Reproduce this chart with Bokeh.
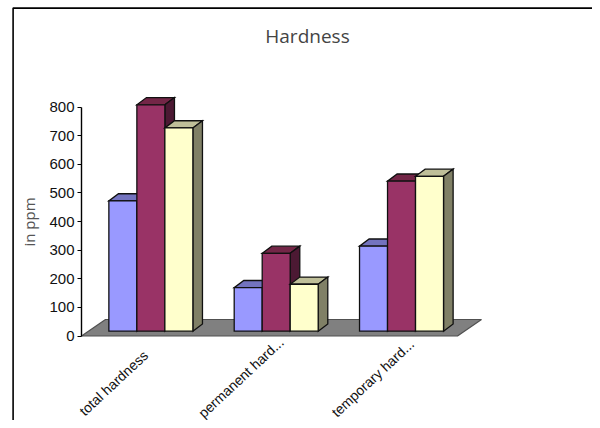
from bokeh.plotting import figure
from bokeh.models import Range1d, LinearAxis, FixedTicker, Label
from bokeh.core.properties import value
from bokeh.embed import file_html
from bokeh.resources import INLINE

# ---- data ----
categories = ["total hardness", "permanent hard...", "temporary hard..."]
series_a = [455, 152, 297]
series_b = [791, 272, 524]
series_c = [710, 164, 541]
y_ticks = [0, 100, 200, 300, 400, 500, 600, 700, 800]
title_text = "Hardness"
y_title = "in ppm"

# ---- styling / layout ----
W, H = 592, 420
X0_PX, Y0_PX = 81.0, 335.5          # where x=0 and y=0 land
PX_PER_CAT = 125.33
PX_PER_PPM = 229.0 / 800.0
BAR_PX, DEPTH_X_PX, DEPTH_Y_PX = 28.0, 9.6, 7.2
FRONT_X_PX, FRONT_Y_PX = 6.7, 4.8
FLOOR_X_PX, FLOOR_Y_PX = 24.0, 16.5
fronts = ["#9999FF", "#993366", "#FFFFCC"]
tops = ["#7373BF", "#732647", "#BFBF99"]
sides = ["#4C4C80", "#4C1933", "#808066"]
LABEL_DX = [-30.5, -28.5, -22.0]
LABEL_DY = [47.0, 41.5, 42.0]
LABEL_ANGLE = 0.75


def xd(px):
    return (px - X0_PX) / PX_PER_CAT


def yd(px):
    return (Y0_PX - px) / PX_PER_PPM


dxu = lambda px: px / PX_PER_CAT
dyu = lambda px: px / PX_PER_PPM

p = figure(width=W, height=H, output_backend="svg", toolbar_location=None,
           x_range=Range1d(xd(0), xd(W)), y_range=Range1d(yd(H), yd(0)),
           x_axis_location=None, y_axis_location=None,
           min_border=0)
p.grid.visible = False
p.outline_line_color = None
p.background_fill_color = "white"
p.border_fill_color = "white"

# outer border of the original picture
p.line([xd(12.6), xd(12.6), xd(W)], [yd(H), yd(7.6), yd(7.6)], line_color="black", line_width=1.6)

# floor
n = len(categories)
fx, fy = dxu(FLOOR_X_PX), dyu(FLOOR_Y_PX)
p.patch([0, n, n + fx, fx], [0, 0, fy, fy], fill_color="#808080",
        line_color="#505050", line_width=1.2)

# bars (painter's order, left to right)
bw = dxu(BAR_PX)
ddx, ddy = dxu(DEPTH_X_PX), dyu(DEPTH_Y_PX)
ox, oy = dxu(FRONT_X_PX), dyu(FRONT_Y_PX)
all_series = [series_a, series_b, series_c]
for g in range(n):
    for s, vals in enumerate(all_series):
        v = vals[g]
        left = g + 0.5 + ox + (s - 1.5) * bw
        right = left + bw
        bot, top = oy, oy + v
        kw = dict(line_color="#101010", line_width=1.3, line_join="miter")
        p.patch([left, right, right + ddx, left + ddx], [top, top, top + ddy, top + ddy],
                fill_color=tops[s], **kw)
        p.patch([right, right + ddx, right + ddx, right], [bot, bot + ddy, top + ddy, top],
                fill_color=sides[s], **kw)
        p.quad(left=left, right=right, bottom=bot, top=top, fill_color=fronts[s], **kw)

# category labels
p.text(x=[g + 0.5 for g in range(n)], y=[0] * n, text=categories,
       x_offset=LABEL_DX, y_offset=LABEL_DY, angle=LABEL_ANGLE,
       text_align="center", text_baseline="middle",
       text_font=value("Liberation Sans"), text_font_size="14px", text_color="#111111")

# y axis
ax = LinearAxis(fixed_location=0, bounds=(0, 800), ticker=FixedTicker(ticks=y_ticks),
                axis_label=y_title)
ax.axis_line_color = "black"
ax.axis_line_width = 1.4
ax.major_tick_line_color = "black"
ax.major_tick_out = 4
ax.major_tick_in = 0
ax.minor_tick_line_color = None
ax.major_label_standoff = 3
ax.major_label_text_font = "Liberation Sans"
ax.major_label_text_font_size = "15px"
ax.major_label_text_color = "#111111"
ax.axis_label_text_font = "Open Sans"
ax.axis_label_text_font_size = "15px"
ax.axis_label_text_font_style = "normal"
ax.axis_label_text_color = "#555555"
ax.axis_label_standoff = 7
p.add_layout(ax, "left")

# title
p.add_layout(Label(x=xd(307), y=yd(35), text=title_text, text_align="center",
                   text_baseline="middle", text_font="Open Sans", text_font_size="19px",
                   text_color="#444444"))

open("out.html", "w").write(file_html(p, INLINE))
